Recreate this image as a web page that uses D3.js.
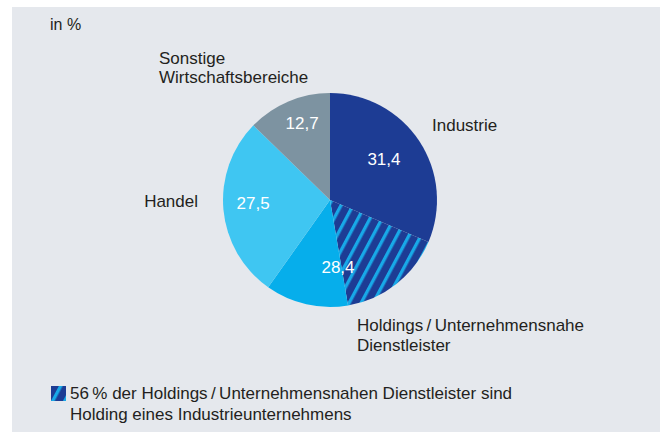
<!DOCTYPE html>
<html>
<head>
<meta charset="utf-8">
<script src="https://cdn.jsdelivr.net/npm/d3@7"></script>
<style>
  body { margin: 0; background: #fff; }
  svg text { font-family: "Liberation Sans", Arial, Helvetica, sans-serif; }
</style>
</head>
<body>
<div id="chart"></div>
<script>
// Anteile in %
var categories = ["Industrie", "Holdings / Unternehmensnahe Dienstleister", "Handel", "Sonstige Wirtschaftsbereiche"];
var values = [31.4, 28.4, 27.5, 12.7];
var valueLabels = ["31,4", "28,4", "27,5", "12,7"];
// share of holdings that belong to an industrial company
var holdingIndustryShare = 56;

var W = 660, H = 432;
var cx = 330, cy = 200, R = 107;

var colors = {
    bg: "#e5e8ed",
    industrie: "#1d3c94",
    holdings: "#06aeeb",
    stripe: "#18a9e8",
    handel: "#3fc6f2",
    sonstige: "#7d93a1",
    text: "#231f20"
};

var svg = d3.select("#chart").append("svg")
    .attr("width", W)
    .attr("height", H);

// hatch pattern
var P = 10.6;
var defs = svg.append("defs");
var pat = defs.append("pattern")
    .attr("id", "hatch")
    .attr("patternUnits", "userSpaceOnUse")
    .attr("width", P)
    .attr("height", P)
    .attr("patternTransform", "rotate(28)");
pat.append("rect").attr("width", P).attr("height", P).attr("fill", colors.industrie);
pat.append("rect").attr("x", 0).attr("width", 3.3).attr("height", P).attr("fill", colors.stripe);

svg.append("rect")
    .attr("x", 12).attr("y", 7)
    .attr("width", W - 12).attr("height", H - 7)
    .attr("fill", colors.bg);

// segments: holdings split into hatched (industry holdings) and rest
var hold = values[1];
var segments = [
    { key: "industrie", value: values[0], fill: colors.industrie },
    { key: "holdHatch", value: hold * holdingIndustryShare / 100, fill: "url(#hatch)" },
    { key: "holdRest", value: hold * (100 - holdingIndustryShare) / 100, fill: colors.holdings },
    { key: "handel", value: values[2], fill: colors.handel },
    { key: "sonstige", value: values[3], fill: colors.sonstige }
];

var pie = d3.pie().sort(null).value(function (d) { return d.value; });
var arc = d3.arc().innerRadius(0).outerRadius(R);

var g = svg.append("g").attr("transform", "translate(" + cx + "," + cy + ")");
g.selectAll("path.slice")
    .data(pie(segments))
    .enter().append("path")
    .attr("class", "slice")
    .attr("d", arc)
    .attr("fill", function (d) { return d.data.fill; });

// value labels inside slices (angle offset in degrees, radius)
var catPie = pie.value(function (d) { return d; })(values);
var valuePos = [
    { da: -4, r: 68 },
    { da: 9, r: 67 },
    { da: 3, r: 77 },
    { da: 3, r: 82 }
];
catPie.forEach(function (d, i) {
    var a = (d.startAngle + d.endAngle) / 2 + valuePos[i].da * Math.PI / 180;
    var x = Math.sin(a) * valuePos[i].r;
    var y = -Math.cos(a) * valuePos[i].r;
    g.append("text")
        .attr("x", x)
        .attr("y", y + 6)
        .attr("text-anchor", "middle")
        .attr("fill", "#fff")
        .attr("font-size", 17)
        .text(valueLabels[i]);
});

function multiText(x, y, lines, anchor, lh) {
    var t = svg.append("text")
        .attr("x", x).attr("y", y)
        .attr("text-anchor", anchor || "start")
        .attr("fill", colors.text)
        .attr("font-size", 17);
    lines.forEach(function (l, i) {
        t.append("tspan").attr("x", x).attr("dy", i === 0 ? 0 : lh).text(l);
    });
    return t;
}

svg.append("text")
    .attr("x", 50).attr("y", 30)
    .attr("fill", colors.text)
    .attr("font-size", 16)
    .text("in %");

multiText(432, 131, [categories[0]], "start", 19);
multiText(357, 331, ["Holdings\u2009/\u2009Unternehmensnahe", "Dienstleister"], "start", 19.5);
multiText(198, 207, [categories[2]], "end", 19);
multiText(159, 64, ["Sonstige", "Wirtschaftsbereiche"], "start", 18.7);

// legend
svg.append("rect")
    .attr("x", 51).attr("y", 386)
    .attr("width", 15).attr("height", 15)
    .attr("fill", "url(#hatch)");
multiText(70, 399, ["56\u2009% der Holdings\u2009/\u2009Unternehmensnahen Dienstleister sind", "Holding eines Industrieunternehmens"], "start", 21);
</script>
</body>
</html>
